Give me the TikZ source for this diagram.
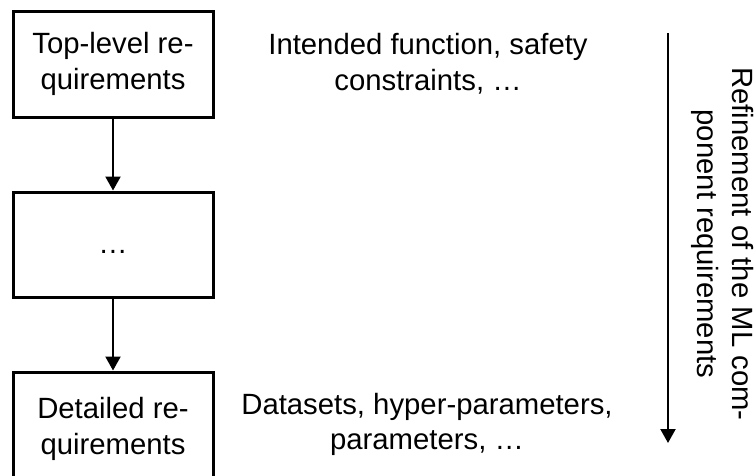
\documentclass[tikz,border=0pt]{standalone}
\usepackage{fontspec}
\setmainfont{Liberation Sans}
\usetikzlibrary{arrows.meta}
\begin{document}
\begin{tikzpicture}[x=1pt,y=-1pt,
  every node/.style={font=\fontsize{29.3}{35.5}\selectfont, align=center, inner sep=0pt},
  reqbox/.style={draw, line width=3pt, minimum width=200pt},
  link/.style={line width=2.2pt, -{Triangle[width=15pt,length=14pt]}}]
  \useasboundingbox (0,0) rectangle (756,475);
  \clip (0,0) rectangle (756,475);

  % requirement levels
  \node[reqbox, minimum height=106pt] (top) at (113,64) {Top-level re-\\quirements};
  \node[reqbox, minimum height=105pt] (mid) at (113,244.5) {\smash{\raisebox{-8.7pt}{…}}};
  \node[reqbox, minimum height=114pt] (det) at (113,429) {Detailed re-\\quirements};

  \draw[link] (top.south) -- (mid.north);
  \draw[link] (mid.south) -- (det.north);

  % examples for each level
  \node (ex1) at (428,64) {Intended function, safety\\constraints, …};
  \node (ex3) at (427,424.5) {Datasets, hyper-parameters,\\parameters, …};

  % refinement direction
  \coordinate (rs) at (668,33);
  \coordinate (re) at (668,443);
  \draw[link] (rs) -- (re);
  \node[rotate=-90] (lbl) at (722.5,244) {Refinement of the ML com-\\ponent requirements};
\end{tikzpicture}
\end{document}
